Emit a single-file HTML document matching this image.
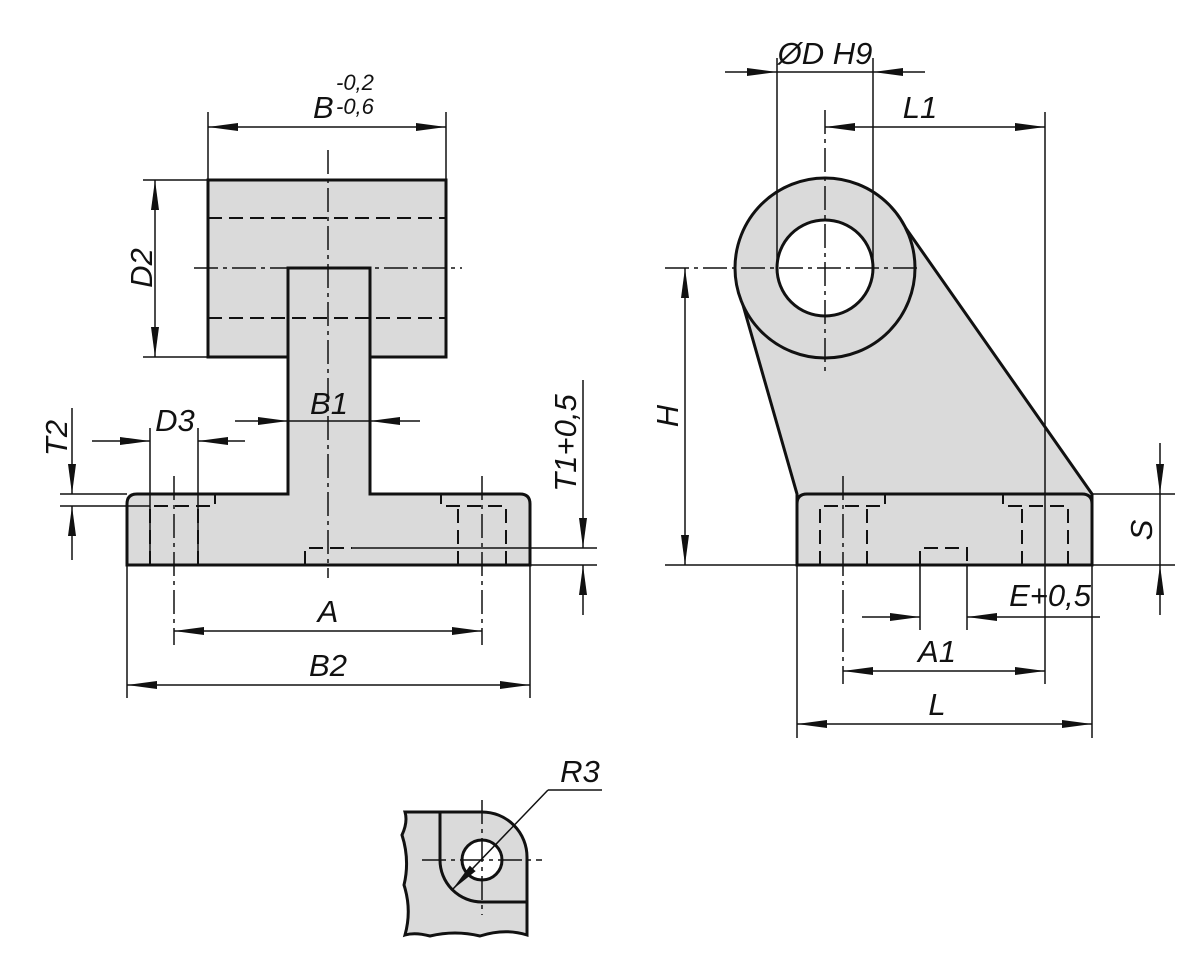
<!DOCTYPE html>
<html><head><style>body{margin:0;background:#fff}svg{display:block}text{font-family:"Liberation Sans",sans-serif;font-style:italic;font-size:31px;fill:#111}</style></head><body>
<svg width="1200" height="966" viewBox="0 0 1200 966" xmlns="http://www.w3.org/2000/svg">
<defs>
<marker id="b" viewBox="0 0 30 10" refX="30" refY="5" markerWidth="30" markerHeight="10" markerUnits="userSpaceOnUse" orient="auto-start-reverse"><path d="M0,1L30,5L0,9z" fill="#111"/></marker></defs>
<g stroke="#111" fill="none">
<g fill="#dadada" stroke-width="3">
<rect x="208" y="180" width="238" height="177"/>
<path d="M127,565V504Q127,494 137,494H288V268H370V494H520Q530,494 530,504V565Z"/>
</g>
<g stroke-width="2" stroke-dasharray="14,7">
<line x1="208" y1="218" x2="446" y2="218"/><line x1="208" y1="318" x2="446" y2="318"/>
<path d="M150,565V506H215V494"/><path d="M198,565V506"/>
<path d="M506,565V506H441V494"/><path d="M458,565V506"/>
<path d="M305,565V548H352"/>
</g>
<g stroke-width="1.5" stroke-dasharray="24,5,4,5">
<line x1="194" y1="268" x2="462" y2="268"/>
<line x1="328" y1="150" x2="328" y2="578"/>
<line x1="174" y1="476" x2="174" y2="645"/><line x1="482" y1="476" x2="482" y2="645"/>
</g>
<g stroke-width="1.5">
<line x1="208" y1="112" x2="208" y2="180"/><line x1="446" y1="112" x2="446" y2="180"/>
<line x1="208" y1="127" x2="446" y2="127" marker-start="url(#b)" marker-end="url(#b)"/>
<line x1="143" y1="180" x2="208" y2="180"/><line x1="143" y1="357" x2="208" y2="357"/>
<line x1="155" y1="180" x2="155" y2="357" marker-start="url(#b)" marker-end="url(#b)"/>
<line x1="235" y1="421" x2="288" y2="421" marker-end="url(#b)"/><line x1="420" y1="421" x2="370" y2="421" marker-end="url(#b)"/>
<line x1="288" y1="421" x2="370" y2="421"/>
<line x1="150" y1="428" x2="150" y2="565"/><line x1="198" y1="428" x2="198" y2="565"/>
<line x1="92" y1="441" x2="150" y2="441" marker-end="url(#b)"/><line x1="245" y1="441" x2="198" y2="441" marker-end="url(#b)"/>
<line x1="60" y1="494" x2="127" y2="494"/><line x1="60" y1="506" x2="150" y2="506"/>
<line x1="72" y1="408" x2="72" y2="494" marker-end="url(#b)"/><line x1="72" y1="560" x2="72" y2="506" marker-end="url(#b)"/>
<line x1="352" y1="548" x2="597" y2="548"/><line x1="530" y1="565" x2="597" y2="565"/>
<line x1="583" y1="380" x2="583" y2="548" marker-end="url(#b)"/><line x1="583" y1="615" x2="583" y2="565" marker-end="url(#b)"/>
<line x1="174" y1="631" x2="482" y2="631" marker-start="url(#b)" marker-end="url(#b)"/>
<line x1="127" y1="565" x2="127" y2="698"/><line x1="530" y1="565" x2="530" y2="698"/>
<line x1="127" y1="685" x2="530" y2="685" marker-start="url(#b)" marker-end="url(#b)"/>
</g>
<g fill="#dadada" stroke-width="3">
<path d="M743,305L797,494V565H1092V494L905,227Z"/>
<path d="M797,565V504Q797,494 807,494H1082Q1092,494 1092,504V565Z"/>
<circle cx="825" cy="268" r="90"/>
</g>
<circle cx="825" cy="268" r="48" fill="#fff" stroke-width="3"/>
<g stroke-width="2" stroke-dasharray="14,7">
<path d="M820,565V506H885V494"/><path d="M867,565V506"/>
<path d="M1068,565V506H1003V494"/><path d="M1022,565V506"/>
<path d="M920,565V548H967V565"/>
</g>
<g stroke-width="1.5" stroke-dasharray="24,5,4,5">
<line x1="665" y1="268" x2="918" y2="268"/>
<line x1="825" y1="110" x2="825" y2="372"/>
<line x1="843" y1="476" x2="843" y2="684"/>
</g>
<g stroke-width="1.5">
<line x1="777" y1="58" x2="777" y2="268"/><line x1="873" y1="58" x2="873" y2="268"/>
<line x1="725" y1="72" x2="777" y2="72" marker-end="url(#b)"/><line x1="925" y1="72" x2="873" y2="72" marker-end="url(#b)"/>
<line x1="777" y1="72" x2="873" y2="72"/>
<line x1="825" y1="127" x2="1045" y2="127" marker-start="url(#b)" marker-end="url(#b)"/>
<line x1="1045" y1="112" x2="1045" y2="684"/>
<line x1="685" y1="268" x2="685" y2="565" marker-start="url(#b)" marker-end="url(#b)"/>
<line x1="665" y1="565" x2="1175" y2="565"/><line x1="1092" y1="494" x2="1175" y2="494"/>
<line x1="1160" y1="443" x2="1160" y2="494" marker-end="url(#b)"/><line x1="1160" y1="615" x2="1160" y2="565" marker-end="url(#b)"/>
<line x1="1160" y1="494" x2="1160" y2="565"/>
<line x1="920" y1="565" x2="920" y2="630"/><line x1="967" y1="565" x2="967" y2="630"/>
<line x1="862" y1="617" x2="920" y2="617" marker-end="url(#b)"/><line x1="1100" y1="617" x2="967" y2="617" marker-end="url(#b)"/>
<line x1="843" y1="671" x2="1045" y2="671" marker-start="url(#b)" marker-end="url(#b)"/>
<line x1="797" y1="565" x2="797" y2="738"/><line x1="1092" y1="565" x2="1092" y2="738"/>
<line x1="797" y1="724" x2="1092" y2="724" marker-start="url(#b)" marker-end="url(#b)"/>
</g>
<path d="M405,812H482A45,45 0 0 1 527,857V935Q505,928 480,936Q455,930 430,936Q415,932 405,935Q412,910 404,885Q410,860 402,835Q408,822 405,812Z" fill="#dadada" stroke-width="3"/>
<path d="M440,812V860A42,42 0 0 0 482,902H527" stroke-width="3"/>
<circle cx="482" cy="860" r="20" fill="#fff" stroke-width="3"/>
<g stroke-width="1.5" stroke-dasharray="24,5,4,5"><line x1="422" y1="860" x2="542" y2="860"/><line x1="482" y1="800" x2="482" y2="915"/></g>
<line x1="548" y1="790" x2="602" y2="790" stroke-width="1.5"/>
<line x1="548" y1="790" x2="452" y2="890" stroke-width="1.5" marker-end="url(#b)"/>
</g>
<text x="313" y="118">B</text>
<text x="336" y="90" style="font-size:22px">-0,2</text>
<text x="336" y="114" style="font-size:22px">-0,6</text>
<text transform="translate(152,268) rotate(-90)" text-anchor="middle">D2</text>
<text x="329" y="414" text-anchor="middle">B1</text>
<text x="175" y="431" text-anchor="middle">D3</text>
<text transform="translate(67,438) rotate(-90)" text-anchor="middle">T2</text>
<text transform="translate(576,443) rotate(-90)" text-anchor="middle">T1+0,5</text>
<text x="328" y="622" text-anchor="middle">A</text>
<text x="328" y="676" text-anchor="middle">B2</text>
<text x="825" y="64" text-anchor="middle">ØD H9</text>
<text x="920" y="118" text-anchor="middle">L1</text>
<text transform="translate(678,416) rotate(-90)" text-anchor="middle">H</text>
<text x="1050" y="606" text-anchor="middle">E+0,5</text>
<text x="937" y="662" text-anchor="middle">A1</text>
<text x="937" y="715" text-anchor="middle">L</text>
<text transform="translate(1152,530) rotate(-90)" text-anchor="middle">S</text>
<text x="580" y="782" text-anchor="middle">R3</text>
</svg>
</body></html>
